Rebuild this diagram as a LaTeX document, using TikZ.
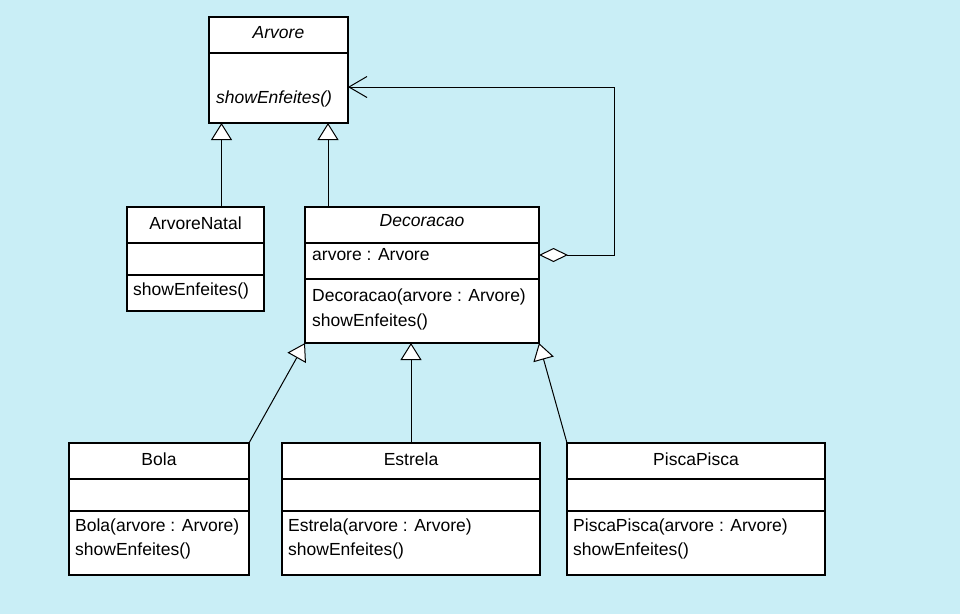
\documentclass[tikz,border=0pt]{standalone}
\usepackage{fontspec}
\setmainfont{Liberation Sans}
\usetikzlibrary{calc}
\usetikzlibrary{arrows.meta}

\definecolor{bgcyan}{RGB}{201,238,246}

\tikzset{
  classbox/.style={draw, fill=white, line width=1.1pt, inner sep=0pt, outer sep=0pt},
  divline/.style={line width=1.1pt},
  classname/.style={inner sep=0pt, font=\fontsize{17.5}{20}\selectfont},
  abstractname/.style={inner sep=0pt, font=\fontsize{17.5}{20}\selectfont\itshape},
  member/.style={anchor=west, inner sep=0pt, font=\fontsize{17.5}{20}\selectfont},
  gen/.style={-{Triangle[length=17pt, width=21pt, fill=white]}, line width=1pt},
  agg/.style={{Diamond[length=29pt, width=14pt, fill=white]}-{Straight Barb[length=18pt, width=21pt]}, line width=1pt}
}

\begin{document}
\begin{tikzpicture}[x=1pt, y=-1pt]
			\fill[bgcyan] (0,0) rectangle (960,614);
			\useasboundingbox (0,0) rectangle (960,614);

			% Arvore
			\node[classbox, minimum width=139pt, minimum height=106pt] (arvore) at (278.5,70) {};
			\draw[divline] (arvore.west |- 0,53) -- (arvore.east |- 0,53);
			\node[abstractname] (arvoreName) at (278.5,33) {Arvore};
			\node[member, font=\fontsize{17.5}{20}\selectfont\itshape] (arvoreShow) at (216,99) {showEnfeites()};

			% ArvoreNatal
			\node[classbox, minimum width=137pt, minimum height=104pt] (natal) at (195.5,259) {};
			\draw[divline] (natal.west |- 0,243) -- (natal.east |- 0,243);
			\draw[divline] (natal.west |- 0,275) -- (natal.east |- 0,275);
			\node[classname] (natalName) at (195.5,223) {ArvoreNatal};
			\node[member] (natalShow) at (133,291) {showEnfeites()};

			% Decoracao
			\node[classbox, minimum width=234pt, minimum height=136pt] (decoracao) at (422,275) {};
			\draw[divline] (decoracao.west |- 0,243) -- (decoracao.east |- 0,243);
			\draw[divline] (decoracao.west |- 0,279) -- (decoracao.east |- 0,279);
			\node[abstractname] (decoracaoName) at (422,221) {Decoracao};
			\node[member] (decAttr) at (312,255) {arvore : Arvore};
			\node[member] (decCtor) at (312,297) {Decoracao(arvore : Arvore)};
			\node[member] (decShow) at (312,322) {showEnfeites()};

			% enfeites
			\foreach \nm/\cx/\bw/\ttl in {bola/159/180/Bola, estrela/411/258/Estrela, pisca/696/258/PiscaPisca} {
				\node[classbox, minimum width=\bw pt, minimum height=132pt] (\nm) at (\cx,509) {};
				\draw[divline] (\nm.west |- 0,479) -- (\nm.east |- 0,479);
				\draw[divline] (\nm.west |- 0,511) -- (\nm.east |- 0,511);
				\node[classname] (\nm Name) at (\cx,459) {\ttl};
				\node[member] (\nm Ctor) at ($(\nm.west |- 0,527)+(6,0)$) {\ttl(arvore : Arvore)};
				\node[member] (\nm Show) at ($(\nm.west |- 0,551)+(6,0)$) {showEnfeites()};
			}

			\coordinate (natalTop) at ($(natal.north)+(26,0)$);
			\coordinate (decTop) at ($(decoracao.north west)+(23,0)$);
			\coordinate (arvoreIn) at ($(arvore.east)+(0,17)$);

			\draw[gen] (natalTop) -- (natalTop |- arvore.south);
			\draw[gen] (decTop) -- (decTop |- arvore.south);
			\draw[agg] (decoracao.east |- decAttr) -| ($(arvoreIn)+(266,0)$) -- (arvoreIn);

			\draw[gen] (bola.north east) -- (decoracao.south west);
			\draw[gen] (estrela.north) -- (estrela.north |- decoracao.south);
			\draw[gen] (pisca.north west) -- (decoracao.south east);
		\end{tikzpicture}
\end{document}
